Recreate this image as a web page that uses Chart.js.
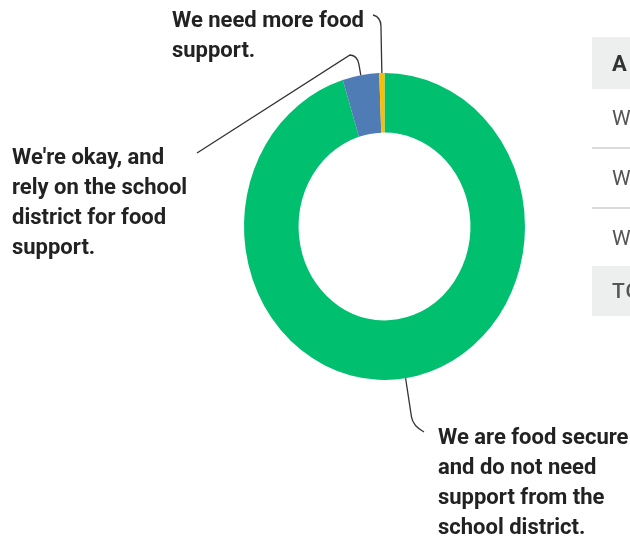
<!DOCTYPE html>
<html>
<head>
<meta charset="utf-8">
<script src="https://cdn.jsdelivr.net/npm/chart.js@4.4.1/dist/chart.umd.min.js"></script>
<style>
html, body { margin: 0; padding: 0; width: 630px; height: 538px; overflow: hidden; background: #fff; }
#wrap { position: relative; width: 630px; height: 538px; overflow: hidden; }
#chart { position: absolute; left: 0; top: 0; }
.tbl { position: absolute; left: 592px; top: 37px; width: 560px; font-family: Roboto, sans-serif; font-size: 21px; }
.tbl div { box-sizing: border-box; padding-left: 20px; white-space: nowrap; display: flex; align-items: center; }
.tbl .head { height: 52px; background: #edeeee; color: #333; font-weight: 700; font-size: 22px; letter-spacing: 2.5px; }
.tbl .row { height: 60px; color: #555; border-bottom: 2px solid #d9dbdb; }
.tbl .row.last { border-bottom: none; height: 57px; }
.tbl .total { height: 50px; background: #edeeee; color: #555; font-weight: 500; letter-spacing: 1px; }
</style>
</head>
<body>
<div id="wrap">
  <canvas id="chart" width="630" height="538"></canvas>
  <div class="tbl" id="tbl"></div>
</div>
<script>
// --- DATA ---
const answers = [
  'We are food secure and do not need support from the school district.',
  "We're okay, and rely on the school district for food support.",
  'We need more food support.'
];
const shares = [95.2, 4.2, 0.6];
const sliceColors = ['#00bf6f', '#507cb6', '#f9be00'];
const labelLines = [
  ['We are food secure', 'and do not need', 'support from the', 'school district.'],
  ["We're okay, and", 'rely on the school', 'district for food', 'support.'],
  ['We need more food', 'support.']
];
const tableHeader = 'ANSWER CHOICES';
const tableTotal = 'TOTAL';

// --- LAYOUT ---
const ySquash = 1.0925;          // ring is a bit taller than wide
const lineGap = 30.3;
const labelPos = [[438, 438], [12, 158], [172, 21]];
// leader: radial length from slice middle, bend end, optional tail
const leaders = [
  { len: 48, end: [424, 432], tail: null },
  { len: 20, end: [350, 55], tail: [197, 153] },
  { len: 56, end: [373, 15], tail: null }
];

// --- TABLE (cut off at the right edge) ---
const tbl = document.getElementById('tbl');
const mk = (cls, txt) => { const d = document.createElement('div'); d.className = cls; d.textContent = txt; tbl.appendChild(d); };
mk('head', tableHeader);
[answers[2], answers[1], answers[0]].forEach((t, i) => mk(i === 2 ? 'row last' : 'row', t));
mk('total', tableTotal);

// --- PLUGINS ---
const ellipse = {
  id: 'ellipse',
  beforeDatasetsDraw(chart) {
    const a = chart.getDatasetMeta(0).data[0];
    const ctx = chart.ctx;
    ctx.save();
    ctx.translate(a.x, a.y);
    ctx.scale(1, ySquash);
    ctx.translate(-a.x, -a.y);
  },
  afterDatasetsDraw(chart) { chart.ctx.restore(); }
};

const calloutLabels = {
  id: 'calloutLabels',
  afterDraw(chart) {
    const ctx = chart.ctx;
    const arcs = chart.getDatasetMeta(0).data;
    ctx.save();
    arcs.forEach((arc, i) => {
      const mid = (arc.startAngle + arc.endAngle) / 2;
      const dx = Math.cos(mid), dy = Math.sin(mid);
      const ax = arc.x + dx * arc.outerRadius;
      const ay = arc.y + dy * arc.outerRadius * ySquash;
      const L = leaders[i];
      const cx = ax + dx * L.len, cy = ay + dy * L.len;
      const px = ax + dx * (L.len - 9), py = ay + dy * (L.len - 9);
      ctx.beginPath();
      ctx.moveTo(ax, ay);
      ctx.lineTo(px, py);
      ctx.quadraticCurveTo(cx, cy, L.end[0], L.end[1]);
      if (L.tail) ctx.lineTo(L.tail[0], L.tail[1]);
      ctx.strokeStyle = '#333';
      ctx.lineWidth = 1.3;
      ctx.stroke();

      ctx.fillStyle = '#222';
      ctx.font = '700 22px Roboto';
      ctx.textBaseline = 'middle';
      ctx.textAlign = 'left';
      labelLines[i].forEach((t, k) => {
        ctx.fillText(t, labelPos[i][0], labelPos[i][1] + k * lineGap);
      });
    });
    ctx.restore();
  }
};

// --- CHART ---
new Chart(document.getElementById('chart'), {
  type: 'doughnut',
  data: {
    labels: answers,
    datasets: [{ data: shares, backgroundColor: sliceColors, borderWidth: 0 }]
  },
  options: {
    responsive: false,
    animation: false,
    cutout: '61.2%',
    layout: { padding: { left: 244, right: 105, top: 86, bottom: 171 } },
    plugins: { legend: { display: false }, tooltip: { enabled: false } }
  },
  plugins: [ellipse, calloutLabels]
});
</script>
</body>
</html>
